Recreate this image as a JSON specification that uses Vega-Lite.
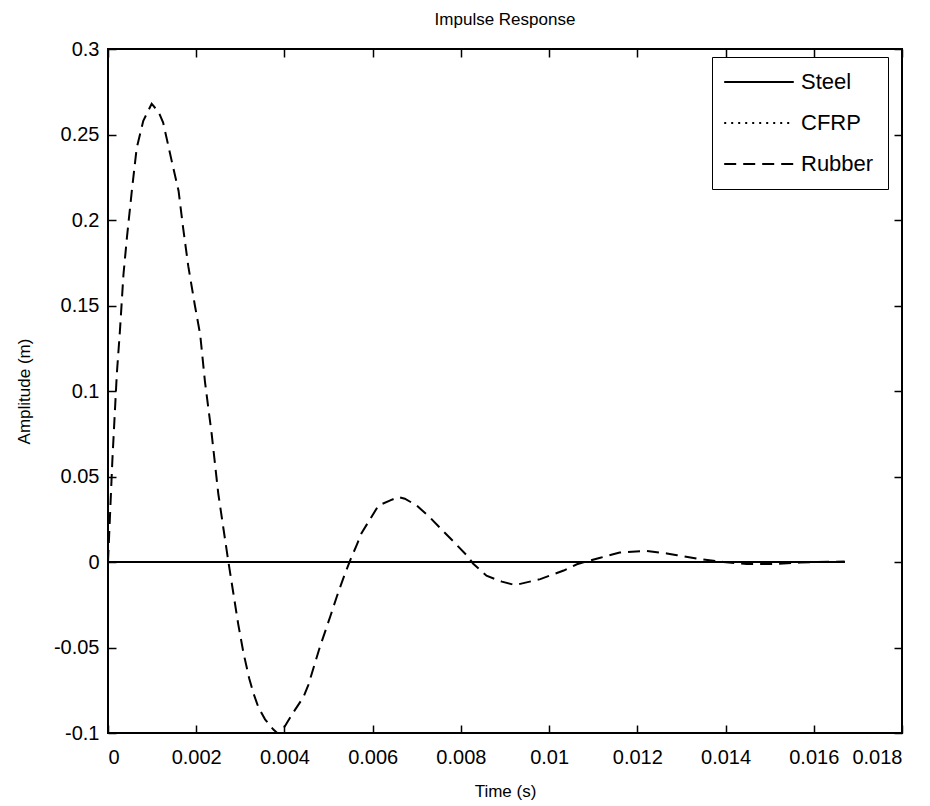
{
  "$schema": "https://vega.github.io/schema/vega-lite/v6.json",
  "width": 794,
  "height": 684,
  "autosize": {"type": "none"},
  "padding": {"left": 108, "top": 49, "right": 28, "bottom": 73},
  "background": "white",
  "title": {"text": "Impulse Response", "fontSize": 17, "font": "Liberation Sans", "fontWeight": "normal", "color": "black", "offset": 10},
  "config": {
    "view": {"stroke": "black", "strokeWidth": 2},
    "font": "Liberation Sans",
    "axis": {"domain": false, "grid": false, "tickColor": "black", "tickWidth": 1.5, "tickSize": -8, "labelColor": "black", "labelFontSize": 20, "labelFont": "Liberation Sans", "titleColor": "black", "titleFontSize": 17, "titleFontWeight": "normal", "titleFont": "Liberation Sans"}
  },
  "data": {"values": [
    {"series": "Steel", "t": 0, "v": 0},
    {"series": "Steel", "t": 0.0167, "v": 0},
    {"series": "CFRP", "t": 0, "v": 0},
    {"series": "CFRP", "t": 0.0167, "v": 0},
    {"series": "Rubber", "t": 0, "v": 0},
    {"series": "Rubber", "t": 0.00005, "v": 0.03},
    {"series": "Rubber", "t": 0.0001, "v": 0.06},
    {"series": "Rubber", "t": 0.00015, "v": 0.085},
    {"series": "Rubber", "t": 0.0002, "v": 0.11},
    {"series": "Rubber", "t": 0.00027, "v": 0.135},
    {"series": "Rubber", "t": 0.00035, "v": 0.168},
    {"series": "Rubber", "t": 0.00043, "v": 0.19},
    {"series": "Rubber", "t": 0.00054, "v": 0.217},
    {"series": "Rubber", "t": 0.00065, "v": 0.242},
    {"series": "Rubber", "t": 0.0008, "v": 0.258},
    {"series": "Rubber", "t": 0.00099, "v": 0.268},
    {"series": "Rubber", "t": 0.00115, "v": 0.263},
    {"series": "Rubber", "t": 0.00125, "v": 0.257},
    {"series": "Rubber", "t": 0.00144, "v": 0.235},
    {"series": "Rubber", "t": 0.0016, "v": 0.217},
    {"series": "Rubber", "t": 0.0017, "v": 0.196},
    {"series": "Rubber", "t": 0.00182, "v": 0.173},
    {"series": "Rubber", "t": 0.00197, "v": 0.15},
    {"series": "Rubber", "t": 0.00209, "v": 0.133},
    {"series": "Rubber", "t": 0.0022, "v": 0.105},
    {"series": "Rubber", "t": 0.00235, "v": 0.075},
    {"series": "Rubber", "t": 0.0025, "v": 0.04},
    {"series": "Rubber", "t": 0.00262, "v": 0.019},
    {"series": "Rubber", "t": 0.00273, "v": 0.0},
    {"series": "Rubber", "t": 0.00284, "v": -0.018},
    {"series": "Rubber", "t": 0.00295, "v": -0.036},
    {"series": "Rubber", "t": 0.00307, "v": -0.053},
    {"series": "Rubber", "t": 0.0032, "v": -0.068},
    {"series": "Rubber", "t": 0.0033, "v": -0.077},
    {"series": "Rubber", "t": 0.00341, "v": -0.085},
    {"series": "Rubber", "t": 0.00356, "v": -0.092},
    {"series": "Rubber", "t": 0.00375, "v": -0.098},
    {"series": "Rubber", "t": 0.00388, "v": -0.101},
    {"series": "Rubber", "t": 0.00401, "v": -0.096},
    {"series": "Rubber", "t": 0.0042, "v": -0.088},
    {"series": "Rubber", "t": 0.00443, "v": -0.079},
    {"series": "Rubber", "t": 0.00454, "v": -0.072},
    {"series": "Rubber", "t": 0.0048, "v": -0.05},
    {"series": "Rubber", "t": 0.00505, "v": -0.031},
    {"series": "Rubber", "t": 0.00519, "v": -0.02},
    {"series": "Rubber", "t": 0.00537, "v": -0.007},
    {"series": "Rubber", "t": 0.00549, "v": 0.001},
    {"series": "Rubber", "t": 0.00564, "v": 0.01},
    {"series": "Rubber", "t": 0.00575, "v": 0.017},
    {"series": "Rubber", "t": 0.00594, "v": 0.025},
    {"series": "Rubber", "t": 0.00613, "v": 0.033},
    {"series": "Rubber", "t": 0.0064, "v": 0.036},
    {"series": "Rubber", "t": 0.00658, "v": 0.038},
    {"series": "Rubber", "t": 0.00673, "v": 0.037},
    {"series": "Rubber", "t": 0.007, "v": 0.033},
    {"series": "Rubber", "t": 0.0073, "v": 0.026},
    {"series": "Rubber", "t": 0.0076, "v": 0.018},
    {"series": "Rubber", "t": 0.00783, "v": 0.012},
    {"series": "Rubber", "t": 0.00813, "v": 0.004},
    {"series": "Rubber", "t": 0.00828, "v": -0.001},
    {"series": "Rubber", "t": 0.00858, "v": -0.008},
    {"series": "Rubber", "t": 0.00893, "v": -0.0115},
    {"series": "Rubber", "t": 0.00923, "v": -0.0135},
    {"series": "Rubber", "t": 0.0098, "v": -0.01},
    {"series": "Rubber", "t": 0.01033, "v": -0.005},
    {"series": "Rubber", "t": 0.01063, "v": -0.0013},
    {"series": "Rubber", "t": 0.01116, "v": 0.0025},
    {"series": "Rubber", "t": 0.0116, "v": 0.0055},
    {"series": "Rubber", "t": 0.01218, "v": 0.0065},
    {"series": "Rubber", "t": 0.01267, "v": 0.005},
    {"series": "Rubber", "t": 0.0129, "v": 0.004},
    {"series": "Rubber", "t": 0.01335, "v": 0.002},
    {"series": "Rubber", "t": 0.01395, "v": 0},
    {"series": "Rubber", "t": 0.01448, "v": -0.0012},
    {"series": "Rubber", "t": 0.01509, "v": -0.0012},
    {"series": "Rubber", "t": 0.01569, "v": -0.0003},
    {"series": "Rubber", "t": 0.0167, "v": 0.0003}
  ]},
  "layer": [
    {
      "mark": {"type": "line", "color": "black", "strokeWidth": 2, "clip": true},
      "encoding": {
        "x": {"field": "t", "type": "quantitative", "scale": {"domain": [0, 0.018], "nice": false, "zero": false},
          "axis": {"orient": "bottom", "title": "Time (s)", "values": [0, 0.002, 0.004, 0.006, 0.008, 0.01, 0.012, 0.014, 0.016, 0.018], "labelExpr": "'' + datum.value", "labelPadding": 22, "titlePadding": 16}},
        "y": {"field": "v", "type": "quantitative", "scale": {"domain": [-0.1, 0.3], "nice": false, "zero": false},
          "axis": {"orient": "left", "title": "Amplitude (m)", "values": [-0.1, -0.05, 0, 0.05, 0.1, 0.15, 0.2, 0.25, 0.3], "labelExpr": "'' + datum.value", "labelPadding": 17, "titlePadding": 20}},
        "strokeDash": {"field": "series", "type": "nominal",
          "scale": {"domain": ["Steel", "CFRP", "Rubber"], "range": [[1, 0], [2, 5], [12, 7]]},
          "legend": {"orient": "none", "legendX": 604, "legendY": 8, "title": null, "symbolType": "M-5.8,0H5.8", "symbolSize": 144, "symbolStrokeColor": "black", "symbolStrokeWidth": 2, "labelFontSize": 22, "labelFont": "Liberation Sans", "labelColor": "black", "strokeColor": "black", "fillColor": "white", "padding": 14, "rowPadding": 19, "symbolOffset": 22, "labelOffset": 31}}
      }
    },
    {
      "transform": [{"filter": "datum.series === 'Steel'"}],
      "mark": {"type": "line", "color": "black", "strokeWidth": 2, "clip": true},
      "encoding": {
        "x": {"field": "t", "type": "quantitative", "scale": {"domain": [0, 0.018], "nice": false, "zero": false},
          "axis": {"orient": "top", "title": null, "labels": false, "values": [0, 0.002, 0.004, 0.006, 0.008, 0.01, 0.012, 0.014, 0.016, 0.018]}},
        "y": {"field": "v", "type": "quantitative", "scale": {"domain": [-0.1, 0.3], "nice": false, "zero": false},
          "axis": {"orient": "right", "title": null, "labels": false, "values": [-0.1, -0.05, 0, 0.05, 0.1, 0.15, 0.2, 0.25, 0.3]}}
      }
    }
  ],
  "resolve": {"axis": {"x": "independent", "y": "independent"}}
}
